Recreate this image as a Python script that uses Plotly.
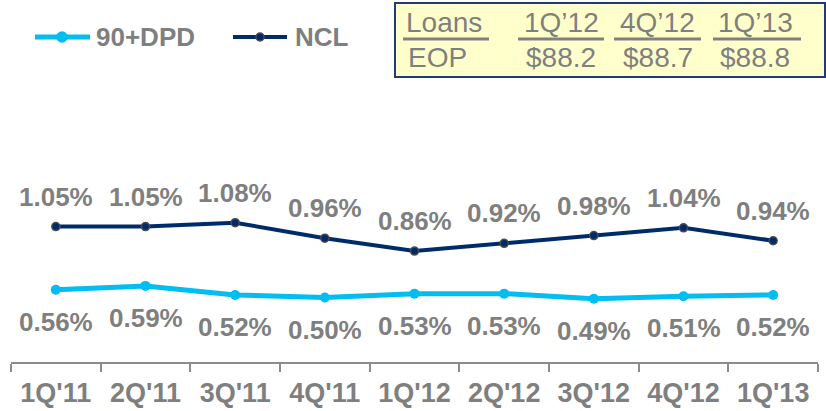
import plotly.graph_objects as go

W, H = 826, 411

categories = ["1Q'11", "2Q'11", "3Q'11", "4Q'11", "1Q'12", "2Q'12", "3Q'12", "4Q'12", "1Q'13"]
ncl = [1.05, 1.05, 1.08, 0.96, 0.86, 0.92, 0.98, 1.04, 0.94]
dpd = [0.56, 0.59, 0.52, 0.50, 0.53, 0.53, 0.49, 0.51, 0.52]

series_names = ["90+DPD", "NCL"]

table_header = ["Loans", "1Q\u201912", "4Q\u201912", "1Q\u201913"]
table_row = ["EOP", "$88.2", "$88.7", "$88.8"]

CYAN = "#00BDF2"
NAVY = "#002B6B"
GRAY = "#7F7F7F"
FONT = "Liberation Sans, Arial, sans-serif"


def px(x):
    return x / W


def py(y):
    return 1 - y / H


fig = go.Figure()
fig.add_trace(go.Scatter(
    x=categories, y=dpd, mode="lines+markers", name=series_names[0],
    line=dict(color=CYAN, width=5), marker=dict(size=10, color=CYAN),
    showlegend=False, cliponaxis=False,
))
fig.add_trace(go.Scatter(
    x=categories, y=ncl, mode="lines+markers", name=series_names[1],
    line=dict(color=NAVY, width=4),
    marker=dict(size=8, color=NAVY, line=dict(color="#4a4a4a", width=1.5)),
    showlegend=False, cliponaxis=False,
))

annotations = []
for c, v in zip(categories, ncl):
    annotations.append(dict(x=c, y=v, xref="x", yref="y", text=f"{v:.2f}%",
                            showarrow=False, yshift=30,
                            font=dict(family=FONT, size=26, color=GRAY, weight="bold")))
for c, v in zip(categories, dpd):
    annotations.append(dict(x=c, y=v, xref="x", yref="y", text=f"{v:.2f}%",
                            showarrow=False, yshift=-32,
                            font=dict(family=FONT, size=26, color=GRAY, weight="bold")))

shapes = []
# manual legend
leg = [(35, 90, 62, CYAN, 5, 10, series_names[0], 94),
       (233, 287, 260, NAVY, 4, 8, series_names[1], 293)]
for x0, x1, xm, col, lw, ms, name, tx in leg:
    shapes.append(dict(type="line", xref="paper", yref="paper",
                       x0=px(x0), x1=px(x1), y0=py(37), y1=py(37),
                       line=dict(color=col, width=lw)))
    r = ms / 2
    shapes.append(dict(type="circle", xref="paper", yref="paper",
                       x0=px(xm - r), x1=px(xm + r), y0=py(37 - r), y1=py(37 + r),
                       fillcolor=col,
                       line=dict(color="#4a4a4a" if col == NAVY else col, width=1.5)))
    annotations.append(dict(x=px(tx), y=py(37), xref="paper", yref="paper",
                            text=name, showarrow=False, xanchor="left", yanchor="middle",
                            font=dict(family=FONT, size=26, color=GRAY, weight="bold")))

# table box
shapes.append(dict(type="rect", xref="paper", yref="paper",
                   x0=px(395), x1=px(825), y0=py(3), y1=py(77),
                   fillcolor="#FFFFCC", line=dict(color="#1F3C78", width=2), layer="below"))
col_centers = [None, 561, 657.5, 755]
underlines = [(403, 489), (518, 604), (614, 701), (713, 801)]
for i, (h, r) in enumerate(zip(table_header, table_row)):
    if i == 0:
        for txt, yy, xx in [(h, 22.5, 404), (r, 57.5, 406)]:
            annotations.append(dict(x=px(xx), y=py(yy), xref="paper", yref="paper",
                                    text=txt, showarrow=False, xanchor="left", yanchor="middle",
                                    font=dict(family=FONT, size=28, color=GRAY)))
    else:
        for txt, yy in [(h, 22.5), (r, 57.5)]:
            annotations.append(dict(x=px(col_centers[i]), y=py(yy), xref="paper", yref="paper",
                                    text=txt, showarrow=False, xanchor="center", yanchor="middle",
                                    font=dict(family=FONT, size=28, color=GRAY)))
    u0, u1 = underlines[i]
    shapes.append(dict(type="line", xref="paper", yref="paper",
                       x0=px(u0), x1=px(u1), y0=py(39), y1=py(39),
                       line=dict(color="#808080", width=3)))

fig.update_layout(
    width=W, height=H,
    margin=dict(l=0, r=0, t=0, b=0, autoexpand=False),
    paper_bgcolor="white", plot_bgcolor="white",
    showlegend=False,
    xaxis=dict(domain=[px(11), px(818)], type="category", range=[-0.5, 8.5], automargin=False,
               showgrid=False, zeroline=False, showline=True, linecolor="#8C8C8C", linewidth=2,
               ticks="outside", tickson="boundaries", ticklen=8, tickwidth=2, tickcolor="#8C8C8C",
               tickfont=dict(family=FONT, size=27, color=GRAY, weight="bold"),
               ticklabelstandoff=6),
    yaxis=dict(domain=[py(362), py(80)], range=[0, 282 / 129], visible=False, automargin=False),
    annotations=annotations,
    shapes=shapes,
)

fig.write_html("out.html", config={"displayModeBar": False},
               post_script="document.body.style.margin='0';document.body.style.overflow='hidden';")
